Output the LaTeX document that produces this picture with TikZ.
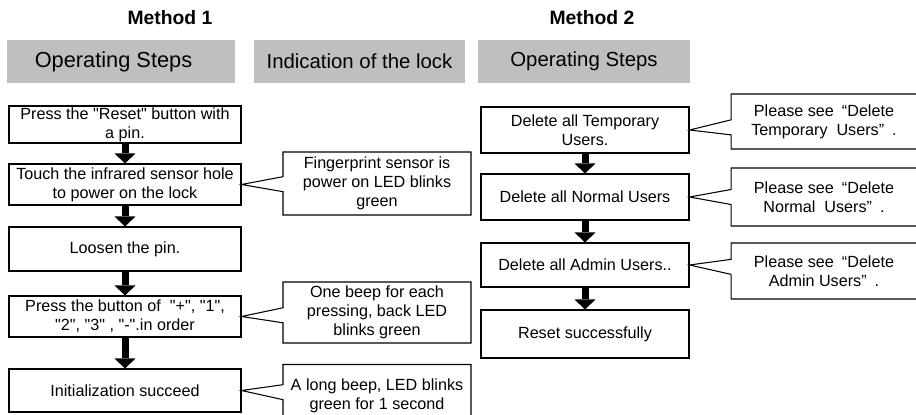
\documentclass[tikz,border=0pt]{standalone}
\usepackage{fontspec}
\setmainfont{Liberation Sans}
\usetikzlibrary{arrows.meta,shapes.callouts}

\begin{document}
\begin{tikzpicture}[
        x = .02cm,
        y = -.02cm,
        every node/.style = {font=\fontsize{9.2}{10.8}\selectfont, align=center, inner sep=0pt},
        title/.style = {font=\bfseries\fontsize{11}{13}\selectfont},
        head/.style = {fill=black!25, minimum width=#1, minimum height=.86cm, font=\fontsize{11.6}{13}\selectfont},
        stepbox/.style = {draw, line width=.6pt, minimum width=#1},
        note/.style = {rectangle callout, draw, fill=white, line width=.6pt, minimum width=#1, callout pointer width=.3cm},
        flow/.style = {line width=.14cm, -{Triangle[width=.42cm, length=.2cm, line width=0pt]}}
    ]
        \useasboundingbox (0,0) rectangle (916,415);

        % titles and headers
        \node[title] (m1) at (170,18) {Method 1};
        \node[title] (m2) at (592,18) {Method 2};
        \node[head=4.56cm] (h1) at (121,61.5) {\hspace*{-.3cm}\fontsize{12.4}{14}\selectfont Operating Steps};
        \node[head=4.22cm] (h2) at (359.5,61.5) {Indication of the lock};
        \node[head=4.24cm] (h3) at (584,61.5) {Operating Steps};

        % method 1
        \node[stepbox=4.64cm, minimum height=.74cm] (s1) at (125,124.5) {Press the \textquotedbl Reset\textquotedbl{} button with\\a pin.};
        \node[stepbox=4.64cm, minimum height=.82cm] (s2) at (125,184.5) {Touch the infrared sensor hole\\to power on the lock};
        \node[stepbox=4.64cm, minimum height=.88cm] (s3) at (125,249) {Loosen the pin.};
        \node[stepbox=4.64cm, minimum height=.82cm] (s4) at (125,316.5) {Press the button of \ \textquotedbl+\textquotedbl, \textquotedbl1\textquotedbl,\\\textquotedbl2\textquotedbl, \textquotedbl3\textquotedbl{} , \textquotedbl-\textquotedbl.in order};
        \node[stepbox=4.64cm, minimum height=.86cm] (s5) at (125,390.5) {Initialization succeed};
        \draw[flow] (s1.south) -- (s2.north);
        \draw[flow] (s2.south) -- (s3.north);
        \draw[flow] (s3.south) -- (s4.north);
        \draw[flow] (s4.south) -- (s5.north);

        \node[note=3.76cm, minimum height=1.26cm, callout absolute pointer={(s2.east)}] (c2) at (377,183.5) {Fingerprint sensor is\\power on LED blinks\\green};
        \node[note=3.76cm, minimum height=1.22cm, callout absolute pointer={(s4.east)}] (c4) at (377,312.5) {One beep for each\\pressing, back LED\\blinks green};
        \node[note=3.76cm, minimum height=1.26cm, callout absolute pointer={(s5.east)}] (c5) at (377,396) {A long beep, LED blinks\\green for 1 second};

        % method 2
        \node[stepbox=4.16cm, minimum height=.92cm] (t1) at (585,130) {Delete all Temporary\\Users.};
        \node[stepbox=4.16cm, minimum height=.92cm] (t2) at (585,197) {Delete all Normal Users};
        \node[stepbox=4.16cm, minimum height=.88cm] (t3) at (585,265) {Delete all Admin Users..};
        \node[stepbox=4.16cm, minimum height=.96cm] (t4) at (585,334) {Reset successfully};
        \draw[flow] (t1.south) -- (t2.north);
        \draw[flow] (t2.south) -- (t3.north);
        \draw[flow] (t3.south) -- (t4.north);

        \node[note=3.72cm, minimum height=1.1cm, callout absolute pointer={(t1.east)}] (d1) at (824,121.5) {Please see\enspace“Delete\\Temporary \ Users”\enspace.};
        \node[note=3.72cm, minimum height=1.16cm, callout absolute pointer={(t2.east)}] (d2) at (824,197) {Please see\enspace“Delete\\Normal \ Users”\enspace.};
        \node[note=3.72cm, minimum height=1.12cm, callout absolute pointer={(t3.east)}] (d3) at (824,271) {Please see\enspace“Delete\\Admin Users”\enspace.};
    \end{tikzpicture}
\end{document}
